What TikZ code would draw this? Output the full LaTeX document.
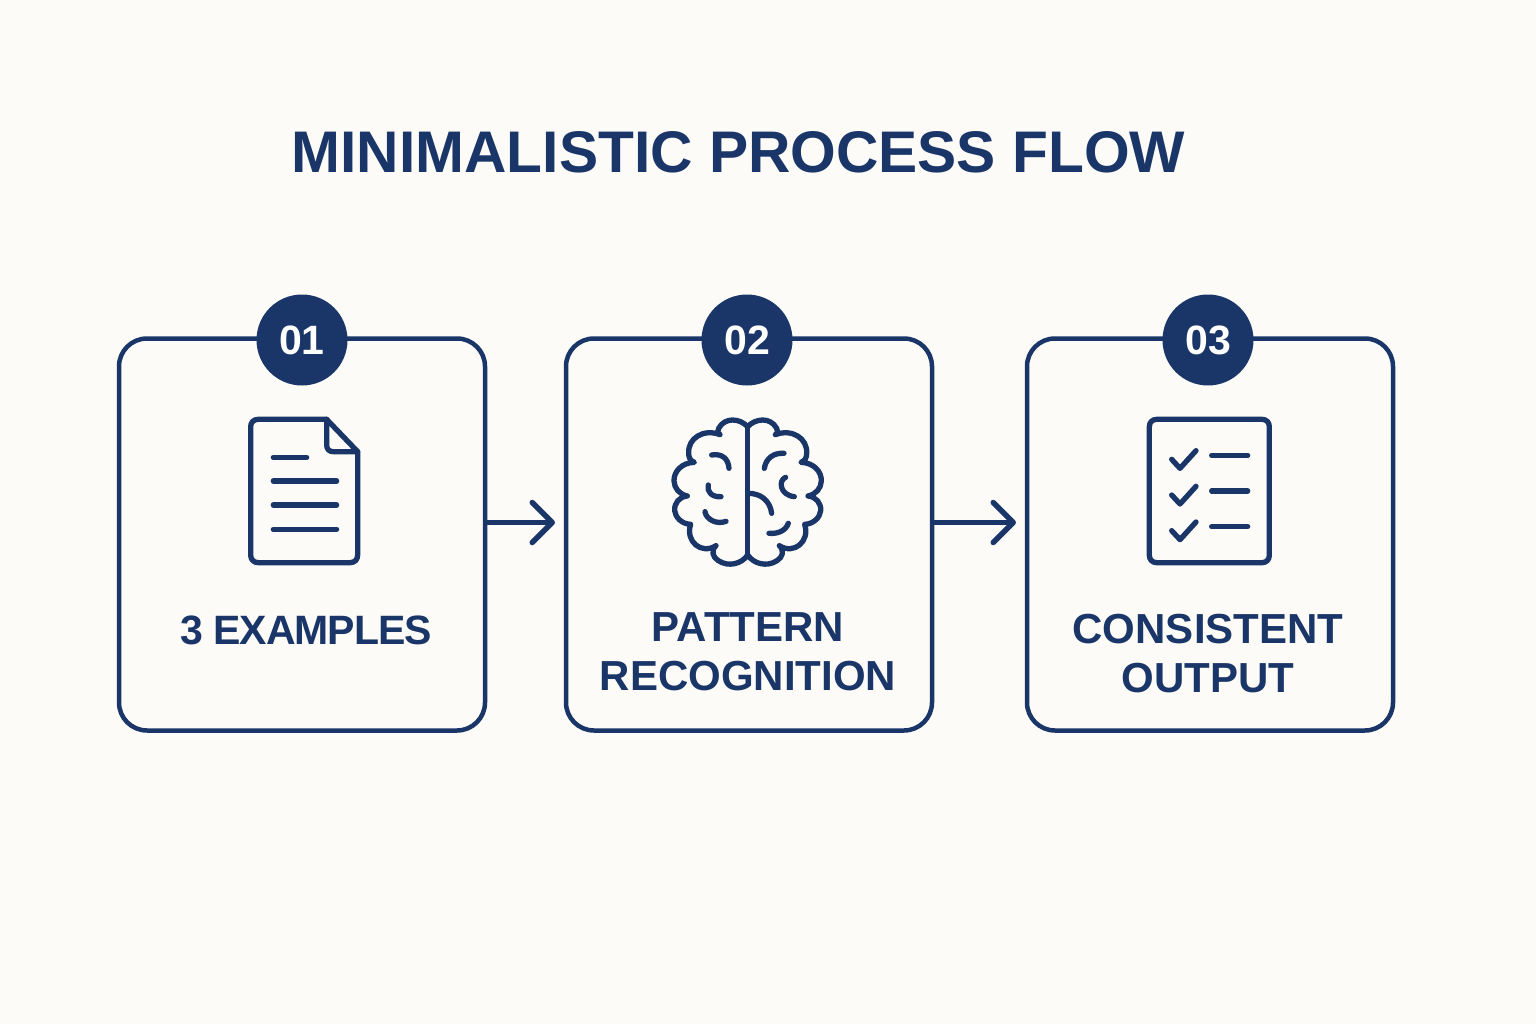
\documentclass[tikz,border=0pt]{standalone}
\usepackage{fontspec}
\setmainfont{Liberation Sans}
\setsansfont{Liberation Sans}
\usetikzlibrary{arrows.meta}
\definecolor{ink}{HTML}{1A3668}
\definecolor{paper}{HTML}{FCFBF7}
\newfontfamily\lblfont{Liberation Sans}
\newfontfamily\narrowfont[LetterSpace=-2.5]{Liberation Sans}
\newfontfamily\ttlfont{Liberation Sans}
\tikzset{
  stepbox/.style={draw=ink,line width=4.5pt,rounded corners=28pt,fill=paper,minimum width=366pt,minimum height=392pt,outer sep=0pt,inner sep=0pt},
  badge/.style={circle,fill=ink,text=white,minimum size=91pt,inner sep=0pt,outer sep=0pt,font=\fontsize{41}{45}\selectfont\bfseries\sffamily},
  lbl/.style={text=ink,align=center,font=\lblfont\bfseries\fontsize{42}{49}\selectfont,inner sep=0pt},
  ttl/.style={text=ink,font=\ttlfont\bfseries\fontsize{58.7}{66}\selectfont,inner sep=0pt},
  icon/.style={draw=ink,line width=5.3pt,line cap=round,line join=round},
  conn/.style={draw=ink,line width=5pt,-{Straight Barb[length=20pt,width=40pt,line width=5.5pt,round]}},
}
\newcommand{\brainhalf}{
  (323,80) .. controls (300,55) and (255,50) .. (236,85) .. controls (232,92) and (232,98) .. (240,104)
  .. controls (190,85) and (143,115) .. (146,160) .. controls (146,172) and (150,182) .. (163,187)
  .. controls (125,188) and (101,215) .. (102,243) .. controls (103,265) and (118,283) .. (142,288)
  .. controls (118,290) and (102,310) .. (104,332) .. controls (106,352) and (125,372) .. (152,373)
  .. controls (135,425) and (185,465) .. (228,437) .. controls (212,452) and (218,472) .. (235,482)
  .. controls (265,502) and (305,492) .. (323,465)
}
\begin{document}
\begin{tikzpicture}[x=1pt,y=-1pt]
\useasboundingbox[fill=paper] (0,0) rectangle (1536,1024);
\node[ttl] (title) at (738.5,152) {MINIMALISTIC PROCESS FLOW};
\node[stepbox] (b1) at (302,534.5) {};
\node[stepbox] (b2) at (749,534.5) {};
\node[stepbox] (b3) at (1210,534.5) {};
\node[badge] (n1) at (302,340) {01};
\node[badge] (n2) at (747,340) {02};
\node[badge] (n3) at (1208,340) {03};
\coordinate (t1) at (555,522.5);
\coordinate (t2) at (1016,522.5);
\draw[conn] (b1.east |- t1) -- (t1);
\draw[conn] (b2.east |- t2) -- (t2);
% document icon
\begin{scope}[shift={(230,400)},x=0.3333pt,y=-0.3333pt]
\draw[icon] (290,58) -- (85,58) .. controls (70,58) and (62,68) .. (62,80) -- (62,465) .. controls (62,480) and (72,488) .. (85,488) -- (360,488) .. controls (375,488) and (383,478) .. (383,465) -- (383,155) -- cycle;
\draw[icon] (290,58) -- (290,135) .. controls (290,148) and (298,155) .. (310,155) -- (383,155);
\foreach \a/\b/\c in {130/230/172,130/320/243,130/320/315,130/320/388}{\draw[icon] (\a,\c) -- (\b,\c);}
\end{scope}
% brain icon
\begin{scope}[shift={(640,400)},x=0.3333pt,y=-0.3333pt]
\draw[icon] \brainhalf;
\begin{scope}[xshift=215.33pt,xscale=-1]
\draw[icon] \brainhalf;
\end{scope}
\draw[icon] (323,80) -- (323,465);
\draw[icon] (215,165) .. controls (245,160) and (265,175) .. (267,205);
\draw[icon] (205,255) .. controls (200,275) and (215,292) .. (243,290);
\draw[icon] (195,335) .. controls (198,358) and (230,375) .. (258,364);
\draw[icon] (432,160) .. controls (400,158) and (378,175) .. (373,205);
\draw[icon] (437,232) .. controls (415,240) and (418,285) .. (463,290);
\draw[icon] (325,280) .. controls (360,280) and (390,300) .. (395,340);
\draw[icon] (445,370) .. controls (437,392) and (415,402) .. (387,400);
\end{scope}
% checklist icon
\begin{scope}[shift={(1130,400)},x=0.3333pt,y=-0.3333pt]
\draw[icon] (80,58) -- (396,58) .. controls (410,58) and (418,68) .. (418,80) -- (418,466) .. controls (418,480) and (408,488) .. (396,488) -- (80,488) .. controls (66,488) and (58,478) .. (58,466) -- (58,80) .. controls (58,66) and (68,58) .. (80,58) -- cycle;
\foreach \d in {0,107,214}{
\draw[icon] (125,178+\d) -- (150,205+\d) -- (198,152+\d);
\draw[icon] (245,166+\d) -- (353,166+\d);
}
\end{scope}
\node[lbl,font=\narrowfont\bfseries\fontsize{41}{49}\selectfont] (l1) at (306,630) {3 EXAMPLES};
\node[lbl] (l2) at (748,651.5) {PATTERN\\RECOGNITION};
\node[lbl] (l3) at (1208,653.5) {CONSISTENT\\OUTPUT};
\end{tikzpicture}
\end{document}
